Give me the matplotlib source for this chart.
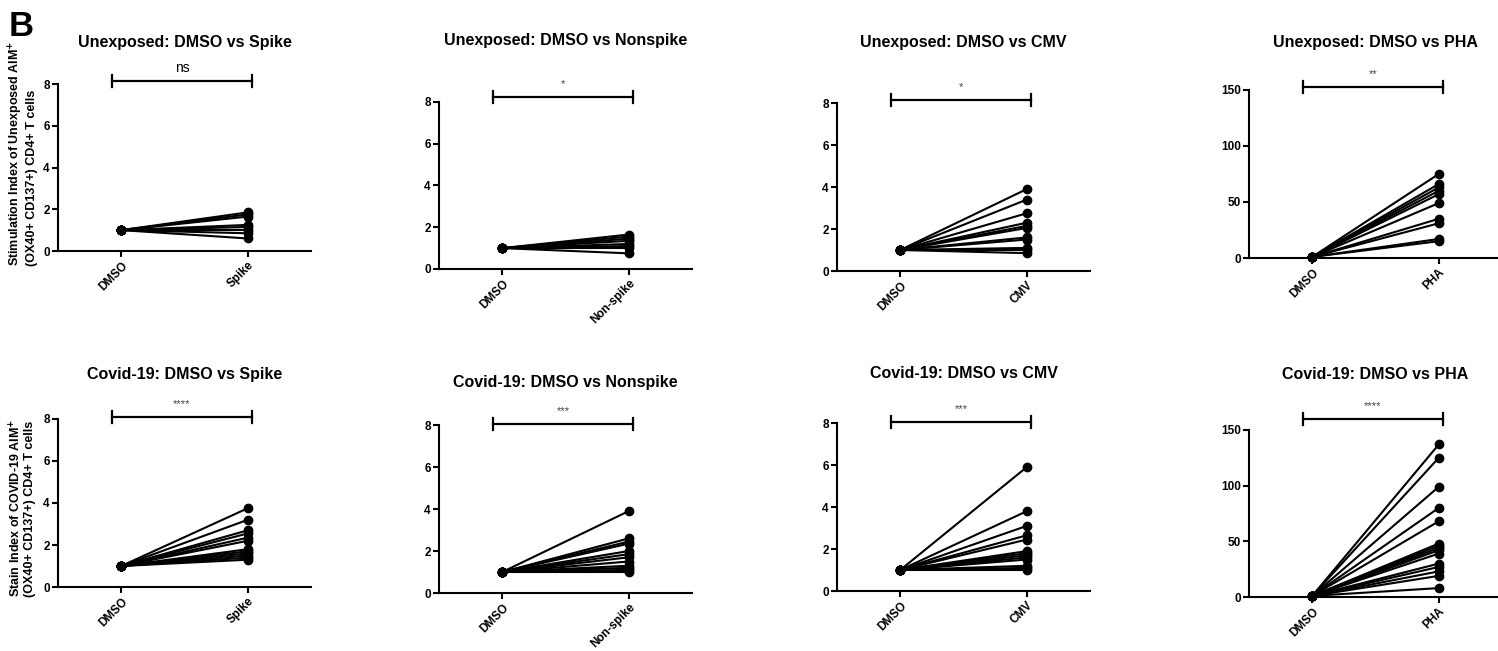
import matplotlib.pyplot as plt
from matplotlib.transforms import blended_transform_factory

plt.rcParams['font.family'] = ['Liberation Sans', 'DejaVu Sans']

# --- data (stimulation / stain index, DMSO normalised to 1) ---
DMSO_VALUE = 1.0

unexp_spike = [1.85, 1.75, 1.65, 1.25, 1.15, 1.0, 0.85, 0.6]
unexp_nonspike = [1.65, 1.55, 1.45, 1.35, 1.2, 1.1, 1.0, 0.75]
unexp_cmv = [3.9, 3.4, 2.75, 2.3, 2.15, 2.05, 1.6, 1.5, 1.1, 1.0, 0.85]
unexp_pha = [75, 66, 63, 60, 57, 49, 35, 31, 17, 15]

covid_spike = [3.75, 3.2, 2.7, 2.55, 2.35, 2.2, 1.8, 1.7, 1.6, 1.5, 1.4, 1.3]
covid_nonspike = [3.9, 2.6, 2.45, 2.35, 2.0, 1.85, 1.7, 1.5, 1.3, 1.2, 1.1, 1.0]
covid_cmv = [5.9, 3.8, 3.1, 2.65, 2.45, 1.9, 1.8, 1.7, 1.6, 1.5, 1.2, 1.1, 1.0]
covid_pha = [137, 125, 99, 80, 68, 48, 46, 44, 42, 39, 30, 27, 23, 19, 8]

titles = ["Unexposed: DMSO vs Spike", "Unexposed: DMSO vs Nonspike",
          "Unexposed: DMSO vs CMV", "Unexposed: DMSO vs PHA",
          "Covid-19: DMSO vs Spike", "Covid-19: DMSO vs Nonspike",
          "Covid-19: DMSO vs CMV", "Covid-19: DMSO vs PHA"]
stim_labels = ["Spike", "Non-spike", "CMV", "PHA"] * 2
signif = ["ns", "*", "*", "**", "****", "***", "***", "****"]
series = [unexp_spike, unexp_nonspike, unexp_cmv, unexp_pha,
          covid_spike, covid_nonspike, covid_cmv, covid_pha]

# --- layout in figure pixels: left, top, bottom, title y, bracket y, text y ---
W, H = 1498, 651
AX_W = 253
panels = [
    (58, 84, 251, 42, 81, 68),
    (439, 102, 269, 41, 97, 82),
    (837, 103, 271, 42, 100, 85),
    (1249, 90, 258, 42, 87, 72),
    (58, 419, 587, 375, 417, 402),
    (439, 425, 593, 383, 424, 409),
    (837, 423, 591, 374, 422, 407),
    (1249, 430, 597, 375, 419, 404),
]


def draw_panel(fig, layout, values, title, stim, star):
    left, top, bottom, title_y, br_y, txt_y = layout
    ax = fig.add_axes([left / W, 1 - bottom / H, AX_W / W, (bottom - top) / H])
    for v in values:
        ax.plot([0, 1], [DMSO_VALUE, v], '-o', color='black', lw=1.5, ms=6, clip_on=False, zorder=3)

    big = max(values) > 20
    ymax = 150 if big else 8
    ax.set_ylim(0, ymax)
    ax.set_yticks([0, 50, 100, 150] if big else [0, 2, 4, 6, 8])
    ax.set_xlim(-0.5, 1.5)
    ax.set_xticks([0, 1])
    ax.set_xticklabels(["DMSO", stim], rotation=45, ha='right', rotation_mode='anchor')

    for s in ['top', 'right']:
        ax.spines[s].set_visible(False)
    for s in ['left', 'bottom']:
        ax.spines[s].set_linewidth(1.5)
    ax.tick_params(length=4, width=1.5, labelsize=8.5, pad=2)
    for lab in ax.get_xticklabels() + ax.get_yticklabels():
        lab.set_fontweight('bold')

    # title and significance bracket, placed in figure pixels
    trans = blended_transform_factory(ax.transData, fig.transFigure)
    fig.text(ax.transData.transform((0.5, 0))[0] / W, 1 - title_y / H, title,
             ha='center', va='center', fontsize=11.5, fontweight='bold')
    yb = 1 - br_y / H
    cap = 6 / H
    x0, x1 = -0.07, 1.03
    ax.plot([x0, x1], [yb, yb], color='black', lw=1.6, transform=trans, clip_on=False)
    ax.plot([x0, x0], [yb - cap, yb + cap], color='black', lw=1.6, transform=trans, clip_on=False)
    ax.plot([x1, x1], [yb - cap, yb + cap], color='black', lw=1.6, transform=trans, clip_on=False)
    if star == "ns":
        ax.text(0.48, 1 - txt_y / H, star, transform=trans, ha='center', va='center', fontsize=10)
    else:
        ax.text(0.48, 1 - (txt_y + 2) / H, star, transform=trans, ha='center', va='center',
                fontsize=8, color='#444444')
    return ax


fig = plt.figure(figsize=(W / 100, H / 100), dpi=100)

for layout, vals, title, stim, star in zip(panels, series, titles, stim_labels, signif):
    draw_panel(fig, layout, vals, title, stim, star)

fig.text(22 / W, 1 - 266 / H,
         "Stimulation Index of Unexposed AIM$^{\\mathbf{+}}$\n(OX40+ CD137+) CD4+ T cells",
         rotation=90, ha='center', va='bottom', multialignment='left',
         fontsize=9, fontweight='bold', linespacing=1.1)
fig.text(22 / W, 1 - 597 / H,
         "Stain Index of COVID-19 AIM$^{\\mathbf{+}}$\n(OX40+ CD137+) CD4+ T cells",
         rotation=90, ha='center', va='bottom', multialignment='left',
         fontsize=9, fontweight='bold', linespacing=1.1)

fig.text(9 / W, 1 - 10 / H, "B", ha='left', va='top', fontsize=25, fontweight='bold')

fig.savefig("out.png", dpi=100)
